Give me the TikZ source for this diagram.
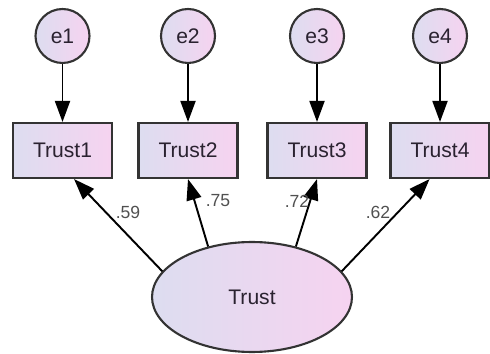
\documentclass[tikz,border=0pt]{standalone}
\usepackage{fontspec}
\setmainfont{Liberation Sans}
\usetikzlibrary{shapes.geometric,arrows.meta}

\definecolor{varleft}{HTML}{DDDDF0}
\definecolor{varright}{HTML}{F6D3F0}
\definecolor{varline}{HTML}{333333}
\definecolor{vartext}{HTML}{2A2230}
\definecolor{wtext}{HTML}{505050}

\tikzset{
  errvar/.style={circle, draw=varline, line width=1.2pt, left color=varleft, right color=varright,
    minimum size=1.08cm, inner sep=0pt, text=vartext, font=\fontsize{12}{14}\selectfont},
  obsvar/.style={rectangle, draw=varline, line width=1.2pt, left color=varleft, right color=varright,
    minimum width=1.98cm, minimum height=1.1cm, inner sep=0pt, text=vartext, font=\fontsize{12}{14}\selectfont},
  latvar/.style={ellipse, draw=varline, line width=1.2pt, left color=varleft, right color=varright,
    minimum width=4cm, minimum height=2.2cm, inner sep=0pt, text=vartext, font=\fontsize{12}{14}\selectfont},
  regarrow/.style={-{Triangle[length=0.42cm,width=0.3cm]}, line width=1.1pt},
  weight/.style={text=wtext, font=\fontsize{10}{12}\selectfont, inner sep=1pt}
}

\begin{document}
\begin{tikzpicture}[x=0.02cm, y=-0.02cm]
        \useasboundingbox (0,0) rectangle (490,354);

        \node[latvar] (trust) at(252,297){Trust};

        \foreach \i/\x in {1/62.5, 2/188, 3/317, 4/440}{
          \node[errvar] (e\i) at(\x,36){e\i};
          \node[obsvar] (trust\i) at(\x,150.5){Trust\i};
          \draw [regarrow] (e\i) -- (trust\i);
        }

        \draw [regarrow] (trust.164) -- (trust1.-68);
        \draw [regarrow] (trust.131) -- (trust2.south);
        \draw [regarrow] (trust.49) -- (trust3.south);
        \draw [regarrow] (trust.16) -- (trust4.-110);

        \node[weight] (w1) at(128,212){.59};
        \node[weight] (w2) at(218,201){.75};
        \node[weight] (w3) at(297,201){.72};
        \node[weight] (w4) at(378,212){.62};

      \end{tikzpicture}
\end{document}
